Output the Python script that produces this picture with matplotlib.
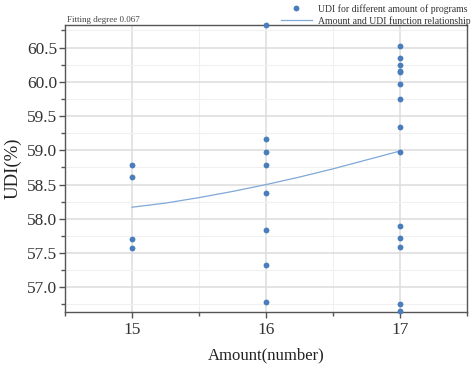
import matplotlib
matplotlib.use("AGG")
import matplotlib.pyplot as plt
from matplotlib.ticker import MultipleLocator

# UDI values (%), grouped by amount of programs
amount = [15] * 4 + [16] * 8 + [17] * 14
udi = [58.79, 58.61, 57.71, 57.58,
       60.83, 59.17, 58.97, 58.79, 58.38, 57.84, 57.33, 56.78,
       60.52, 60.35, 60.25, 60.16, 60.15, 59.97, 59.75, 59.34, 58.98,
       57.90, 57.72, 57.59, 56.76, 56.66]

# fitted relationship, read at a few points along the curve
fit_x = [15.0, 15.25, 15.5, 15.75, 16.0, 16.25, 16.5, 16.75, 17.0]
fit_y = [58.17, 58.23, 58.31, 58.40, 58.50, 58.61, 58.73, 58.86, 58.99]
fit_label = "Fitting degree 0.067"

plt.rcParams['font.family'] = ['Liberation Serif', 'DejaVu Serif']

fig = plt.figure(figsize=(4.76, 3.73), dpi=100)
ax = fig.add_axes([0.1366, 0.1635, 0.8444, 0.7695])

pts, = ax.plot(amount, udi, 'o', color='#4a7ebb', markersize=4.2,
               markeredgewidth=0, clip_on=False, zorder=3,
               label='UDI for different amount of programs')
ln, = ax.plot(fit_x, fit_y, '-', color='#7fa8d8', linewidth=0.9, zorder=2,
              label='Amount and UDI function relationship')

ax.set_xlim(14.5, 17.5)
ax.set_ylim(56.64, 60.83)
ax.xaxis.set_major_locator(MultipleLocator(1))
ax.xaxis.set_minor_locator(MultipleLocator(0.5))
ax.yaxis.set_major_locator(MultipleLocator(0.5))
ax.yaxis.set_minor_locator(MultipleLocator(0.25))
ax.yaxis.set_major_formatter(matplotlib.ticker.FormatStrFormatter('%.1f'))

ax.grid(which='major', color='#dcdcdc', linewidth=1.1)
ax.grid(which='minor', color='#f0f0f0', linewidth=0.8)
ax.set_axisbelow(True)

for s in ax.spines.values():
    s.set_color('#555555')
    s.set_linewidth(1.0)
ax.tick_params(which='major', direction='out', length=4, width=1,
               color='#555555', labelsize=12.5, labelcolor='#333333')
ax.tick_params(which='minor', direction='out', length=3, width=1,
               color='#555555')
ax.tick_params(axis='x', pad=3)
ax.tick_params(axis='y', pad=1.5)

ax.set_xlabel('Amount(number)', fontsize=12, color='#222222', labelpad=7)
ax.set_ylabel('UDI(%)', fontsize=13.5, color='#222222', labelpad=4)

ax.text(0.004, 1.005, fit_label, transform=ax.transAxes, fontsize=6.5,
        color='#444444', ha='left', va='bottom')

fig.legend(handles=[pts, ln], loc='upper right', bbox_to_anchor=(1.0, 1.005),
           frameon=False, fontsize=7, handlelength=3.2, handletextpad=0.6,
           labelspacing=0.25, borderaxespad=0.2, labelcolor='#333333')

fig.savefig('out.png', dpi=100)
